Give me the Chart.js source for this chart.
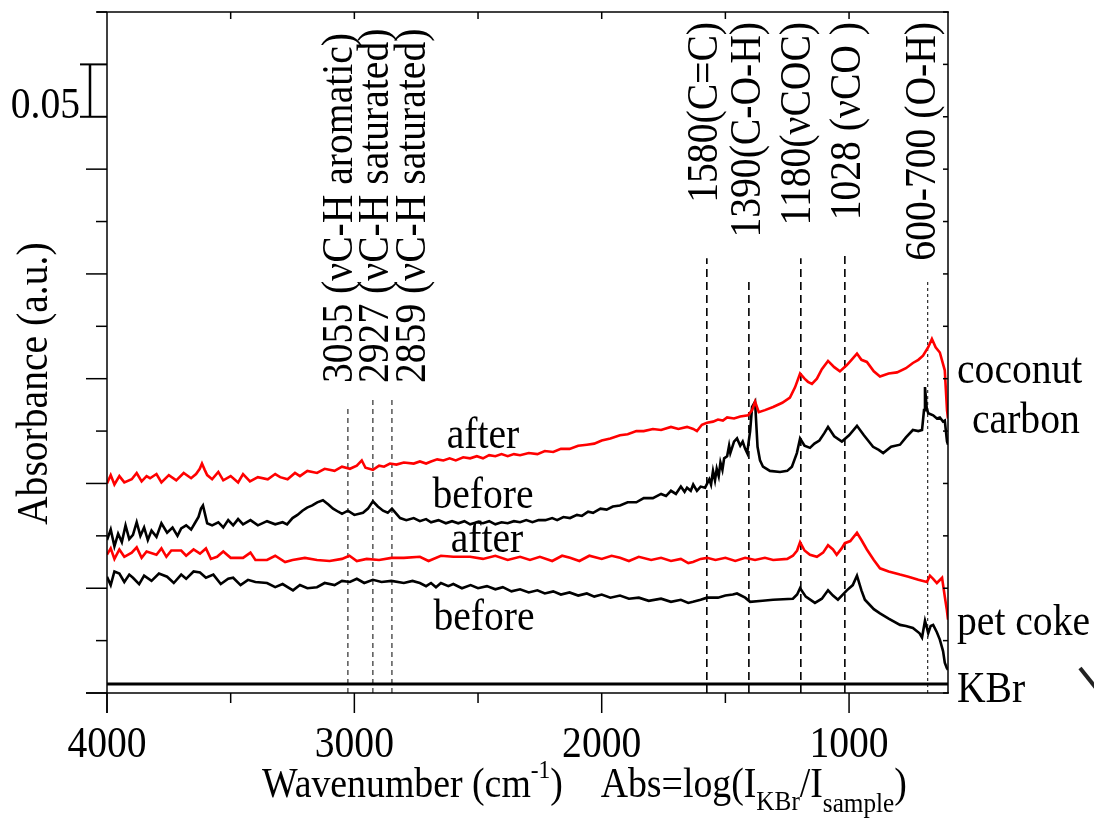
<!DOCTYPE html>
<html>
<head>
<meta charset="utf-8">
<script src="https://cdn.jsdelivr.net/npm/chart.js@4/dist/chart.umd.min.js"></script>
<style>
  html, body { margin: 0; padding: 0; background: #fff; }
  canvas { display: block; }
</style>
</head>
<body>
<canvas id="ftir" width="1094" height="821"></canvas>
<script>
// ---- data: [wavenumber cm-1, absorbance a.u.] ----
const cocoAfter = [
  [4000,0.200],[3985,0.208],[3970,0.199],[3950,0.207],[3930,0.201],[3900,0.204],[3880,0.210],[3860,0.202],
  [3840,0.207],[3826,0.205],[3800,0.209],[3780,0.201],[3750,0.208],[3720,0.203],[3690,0.210],[3660,0.205],
  [3640,0.209],[3625,0.214],[3616,0.219],[3605,0.213],[3595,0.208],[3575,0.204],[3550,0.211],[3530,0.203],
  [3500,0.207],[3470,0.201],[3450,0.209],[3422,0.202],[3390,0.206],[3350,0.204],[3320,0.209],[3300,0.206],
  [3270,0.204],[3240,0.210],[3220,0.207],[3190,0.212],[3151,0.210],[3120,0.214],[3080,0.212],[3050,0.216],
  [3018,0.214],[2990,0.217],[2970,0.222],[2955,0.215],[2925,0.213],[2900,0.217],[2880,0.216],[2856,0.219],
  [2830,0.218],[2800,0.220],[2760,0.219],[2735,0.221],[2710,0.219],[2690,0.221],[2665,0.223],[2640,0.222],
  [2615,0.224],[2590,0.222],[2560,0.225],[2532,0.224],[2505,0.226],[2480,0.224],[2455,0.227],[2430,0.226],
  [2405,0.228],[2380,0.226],[2355,0.228],[2330,0.227],[2295,0.229],[2260,0.228],[2230,0.231],[2196,0.230],
  [2165,0.233],[2130,0.233],[2095,0.236],[2060,0.237],[2030,0.238],[2000,0.241],[1965,0.243],[1926,0.246],
  [1895,0.247],[1860,0.250],[1830,0.250],[1793,0.252],[1760,0.251],[1720,0.254],[1690,0.252],[1655,0.254],
  [1630,0.252],[1615,0.250],[1595,0.256],[1574,0.258],[1550,0.259],[1530,0.261],[1510,0.260],[1493,0.263],
  [1465,0.262],[1440,0.264],[1408,0.265],[1392,0.270],[1380,0.278],[1365,0.268],[1340,0.270],[1307,0.273],
  [1270,0.277],[1239,0.282],[1218,0.292],[1198,0.305],[1180,0.300],[1166,0.297],[1150,0.295],[1130,0.300],
  [1110,0.309],[1085,0.317],[1060,0.311],[1037,0.307],[1009,0.313],[990,0.318],[968,0.324],[950,0.318],
  [928,0.316],[900,0.307],[875,0.302],[840,0.305],[806,0.306],[770,0.310],[742,0.315],[720,0.318],
  [701,0.322],[680,0.330],[665,0.338],[650,0.330],[633,0.325],[613,0.308],[604,0.270],[600,0.262]
];

const cocoBefore = [
  [4000,0.146],[3985,0.156],[3970,0.140],[3955,0.152],[3940,0.144],[3925,0.160],[3910,0.147],[3895,0.151],
  [3880,0.163],[3865,0.150],[3850,0.158],[3835,0.146],[3820,0.155],[3800,0.149],[3780,0.162],[3757,0.153],
  [3735,0.158],[3715,0.150],[3700,0.157],[3680,0.160],[3660,0.156],[3645,0.162],[3630,0.168],[3620,0.176],
  [3612,0.179],[3603,0.170],[3595,0.162],[3575,0.160],[3550,0.163],[3530,0.158],[3510,0.165],[3490,0.160],
  [3470,0.166],[3450,0.161],[3420,0.165],[3390,0.160],[3353,0.164],[3320,0.161],[3290,0.163],[3272,0.161],
  [3250,0.167],[3230,0.170],[3210,0.174],[3191,0.177],[3170,0.179],[3150,0.182],[3127,0.184],[3105,0.180],
  [3086,0.176],[3065,0.173],[3050,0.171],[3026,0.174],[3000,0.170],[2965,0.172],[2945,0.176],[2925,0.183],
  [2905,0.178],[2884,0.174],[2865,0.172],[2848,0.176],[2830,0.171],[2815,0.167],[2790,0.165],[2760,0.167],
  [2735,0.164],[2710,0.166],[2690,0.163],[2660,0.165],[2630,0.162],[2605,0.164],[2580,0.162],[2555,0.164],
  [2532,0.161],[2505,0.163],[2480,0.162],[2455,0.164],[2430,0.161],[2405,0.163],[2380,0.162],[2355,0.164],
  [2330,0.163],[2305,0.165],[2280,0.163],[2255,0.165],[2228,0.165],[2200,0.167],[2180,0.165],[2155,0.168],
  [2128,0.167],[2100,0.170],[2080,0.169],[2055,0.173],[2035,0.172],[2005,0.176],[1980,0.175],[1955,0.178],
  [1926,0.179],[1895,0.182],[1860,0.182],[1830,0.186],[1793,0.186],[1760,0.190],[1740,0.188],[1720,0.193],
  [1700,0.190],[1680,0.197],[1665,0.192],[1655,0.196],[1640,0.193],[1630,0.199],[1615,0.193],[1600,0.197],
  [1582,0.196],[1565,0.204],[1558,0.199],[1550,0.212],[1542,0.203],[1535,0.214],[1527,0.207],[1520,0.220],
  [1512,0.213],[1505,0.224],[1493,0.226],[1485,0.236],[1480,0.229],[1465,0.240],[1453,0.243],[1440,0.236],
  [1430,0.240],[1420,0.233],[1412,0.229],[1400,0.250],[1392,0.273],[1380,0.278],[1370,0.235],[1360,0.222],
  [1348,0.216],[1320,0.212],[1279,0.211],[1250,0.212],[1231,0.216],[1211,0.229],[1198,0.243],[1180,0.236],
  [1158,0.234],[1140,0.238],[1120,0.241],[1100,0.248],[1085,0.254],[1060,0.245],[1029,0.240],[1000,0.246],
  [968,0.255],[940,0.246],[903,0.235],[880,0.232],[862,0.229],[830,0.235],[794,0.237],[770,0.244],
  [742,0.251],[720,0.250],[705,0.251],[697,0.270],[693,0.292],[686,0.272],[680,0.267],[660,0.265],
  [645,0.262],[633,0.263],[620,0.259],[613,0.260],[604,0.240],[600,0.237]
];

const petAfter = [
  [4000,0.132],[3985,0.138],[3970,0.128],[3950,0.137],[3930,0.130],[3900,0.134],[3880,0.139],[3860,0.129],
  [3840,0.135],[3800,0.132],[3780,0.138],[3760,0.130],[3740,0.136],[3700,0.136],[3680,0.131],[3650,0.137],
  [3624,0.133],[3600,0.138],[3580,0.128],[3555,0.130],[3530,0.135],[3500,0.129],[3450,0.129],[3420,0.134],
  [3400,0.127],[3353,0.127],[3320,0.131],[3280,0.125],[3250,0.127],[3200,0.129],[3151,0.127],[3100,0.126],
  [3050,0.128],[3020,0.131],[2990,0.126],[2950,0.128],[2900,0.127],[2850,0.129],[2800,0.129],[2735,0.130],
  [2700,0.126],[2650,0.131],[2600,0.130],[2532,0.130],[2480,0.128],[2430,0.131],[2380,0.127],[2330,0.130],
  [2290,0.127],[2250,0.130],[2200,0.126],[2160,0.131],[2128,0.129],[2090,0.126],[2050,0.131],[2000,0.128],
  [1960,0.131],[1926,0.129],[1890,0.126],[1850,0.130],[1800,0.127],[1760,0.129],[1720,0.126],[1680,0.128],
  [1650,0.124],[1631,0.125],[1600,0.128],[1574,0.129],[1540,0.127],[1500,0.129],[1460,0.126],[1420,0.129],
  [1380,0.127],[1340,0.129],[1307,0.127],[1250,0.128],[1227,0.131],[1210,0.136],[1198,0.144],[1180,0.136],
  [1158,0.132],[1130,0.130],[1105,0.134],[1085,0.141],[1065,0.137],[1050,0.132],[1030,0.138],[1017,0.143],
  [995,0.145],[968,0.153],[950,0.146],[928,0.137],[900,0.127],[875,0.119],[840,0.116],[794,0.113],
  [760,0.111],[720,0.108],[685,0.106],[673,0.112],[660,0.109],[645,0.105],[624,0.110],[613,0.092],
  [605,0.080],[600,0.070]
];

const petBefore = [
  [4000,0.111],[3985,0.103],[3970,0.116],[3950,0.114],[3930,0.106],[3910,0.113],[3895,0.110],[3870,0.104],
  [3850,0.112],[3820,0.107],[3790,0.114],[3757,0.111],[3730,0.105],[3700,0.113],[3680,0.109],[3650,0.116],
  [3624,0.115],[3600,0.110],[3570,0.113],[3540,0.104],[3510,0.109],[3490,0.110],[3460,0.103],[3430,0.108],
  [3400,0.106],[3353,0.105],[3320,0.101],[3290,0.104],[3248,0.098],[3220,0.103],[3190,0.100],[3151,0.101],
  [3120,0.105],[3080,0.103],[3050,0.107],[3018,0.106],[2990,0.109],[2960,0.105],[2925,0.108],[2890,0.106],
  [2850,0.107],[2800,0.105],[2765,0.107],[2735,0.105],[2710,0.102],[2690,0.105],[2670,0.101],[2650,0.105],
  [2620,0.102],[2600,0.104],[2565,0.100],[2530,0.103],[2500,0.100],[2464,0.102],[2430,0.099],[2400,0.101],
  [2365,0.097],[2330,0.099],[2295,0.096],[2260,0.098],[2230,0.095],[2196,0.097],[2165,0.094],[2130,0.096],
  [2095,0.093],[2060,0.095],[2030,0.092],[2000,0.094],[1965,0.091],[1926,0.093],[1890,0.090],[1850,0.091],
  [1810,0.088],[1760,0.090],[1720,0.087],[1680,0.089],[1650,0.086],[1631,0.087],[1600,0.089],[1574,0.091],
  [1530,0.091],[1500,0.093],[1470,0.094],[1453,0.095],[1420,0.091],[1400,0.087],[1350,0.088],[1307,0.089],
  [1227,0.090],[1210,0.094],[1198,0.100],[1175,0.092],[1138,0.086],[1110,0.090],[1085,0.098],[1065,0.093],
  [1045,0.089],[1009,0.098],[985,0.103],[968,0.112],[950,0.098],[936,0.089],[900,0.080],[875,0.076],
  [840,0.071],[794,0.065],[770,0.064],[742,0.062],[715,0.057],[705,0.053],[693,0.069],[685,0.062],
  [680,0.057],[670,0.064],[660,0.065],[645,0.058],[633,0.051],[620,0.040],[613,0.029],[605,0.024],
  [600,0.022]
];

const kbr = [[4000, 0.0086], [600, 0.0086]];

// band markers: where the dashed line sits and how high it reaches
const markerWn  = [3026, 2925, 2848, 1575, 1405, 1195, 1017, 682];
const markerTop = [0.273, 0.281, 0.281, 0.415, 0.393, 0.415, 0.418, 0.393];
const markerKind = ['thin', 'thin', 'thin', 'mid', 'mid', 'mid', 'mid', 'fine'];

// band labels (rotated), anchored at the baseline wavenumber
const bandText = ['3055 (\u03bdC-H aromatic)', '2927 (\u03bdC-H saturated)', '2859 (\u03bdC-H saturated)',
  '1580(C=C)', '1390(C-O-H)', '1180(\u03bdCOC)', '1028 (\u03bdCO )', '600-700 (O-H)'];
const bandWn = [3010, 2864, 2714, 1534, 1360, 1158, 956, 653];

// curve labels inside the plot (centre wavenumber, baseline absorbance)
const curveText = ['after', 'before', 'after', 'before'];
const curveWn  = [2480, 2480, 2464, 2476];
const curveAbs = [0.2338, 0.1765, 0.1346, 0.0601];

const xMajor = [4000, 3000, 2000, 1000];
const xMinor = [3500, 2500, 1500];

const pts = rows => rows.map(([x, y]) => ({ x, y }));

const SERIF = '"Liberation Serif", "Times New Roman", serif';

function txt(ctx, s, x, y, size, align, rot, sx) {
  ctx.save();
  ctx.translate(x, y);
  if (rot) ctx.rotate(rot);
  ctx.scale(sx || 0.9, 1);
  ctx.font = size + 'px ' + SERIF;
  ctx.textAlign = align || 'left';
  ctx.textBaseline = 'alphabetic';
  ctx.fillStyle = '#000';
  ctx.fillText(s, 0, 0);
  ctx.restore();
}

function textWidth(ctx, s, size, sx) {
  ctx.font = size + 'px ' + SERIF;
  return ctx.measureText(s).width * (sx || 0.9);
}

function line(ctx, x1, y1, x2, y2) {
  ctx.beginPath();
  ctx.moveTo(x1, y1);
  ctx.lineTo(x2, y2);
  ctx.stroke();
}

// frame, ticks and all the text of the figure
const frame = {
  id: 'frame',
  afterDraw(chart) {
    const { ctx, chartArea: a, scales: { x, y } } = chart;
    ctx.save();
    ctx.strokeStyle = '#000';
    ctx.lineWidth = 1.5;
    line(ctx, a.left - 10, a.top, a.right + 1, a.top);
    line(ctx, a.left, a.top, a.left, a.bottom + 20);
    line(ctx, a.right, a.top, a.right, a.bottom);
    line(ctx, a.left - 21, a.bottom, a.right + 1, a.bottom);

    // y ticks every 0.05, long on the tenths
    for (let i = 0; i <= 13; i++) {
      const py = y.getPixelForValue(i * 0.05);
      if (i !== 11 && i !== 12) line(ctx, a.left - (i % 2 === 0 ? 21 : 11), py, a.left, py);
      line(ctx, a.right - 5, py, a.right, py);
    }
    // 0.05 scale bar
    const b1 = y.getPixelForValue(0.55), b2 = y.getPixelForValue(0.6);
    ctx.lineWidth = 2;
    line(ctx, a.left - 27, b1, a.left, b1);
    line(ctx, a.left - 27, b2, a.left, b2);
    ctx.lineWidth = 2.5;
    line(ctx, a.left - 17, b1, a.left - 17, b2);
    ctx.lineWidth = 1.5;
    txt(ctx, '0.05', a.left - 27, b1 + 1, 44, 'right');

    // x ticks
    xMajor.forEach(v => line(ctx, x.getPixelForValue(v), a.bottom, x.getPixelForValue(v), a.bottom + 20));
    xMinor.forEach(v => line(ctx, x.getPixelForValue(v), a.bottom, x.getPixelForValue(v), a.bottom + 10));
    xMajor.concat(xMinor).forEach(v => {
      if (v < 4000) line(ctx, x.getPixelForValue(v), a.top, x.getPixelForValue(v), a.top + 7);
    });
    xMajor.forEach(v => txt(ctx, String(v), x.getPixelForValue(v), a.bottom + 64, 44, 'center'));

    // axis titles
    txt(ctx, 'Absorbance (a.u.)', 47, 525, 44, 'left', -Math.PI / 2);
    const parts = [
      ['Wavenumber (cm', 42, 0], ['-1', 26, -19], [')', 42, 0], ['    ', 42, 0],
      ['Abs=log(I', 42, 0], ['KBr', 28, 13], ['/I', 42, 0], ['sample', 28, 15], [')', 42, 0]
    ];
    let cx = 262;
    const base = a.bottom + 104;
    parts.forEach(([s, sz, dy]) => {
      txt(ctx, s, cx, base + dy, sz, 'left');
      cx += textWidth(ctx, s, sz);
    });

    // band labels
    bandText.forEach((s, i) => {
      const px = x.getPixelForValue(bandWn[i]);
      if (i < 3) txt(ctx, s, px, 383, 44, 'left', -Math.PI / 2);
      else txt(ctx, s, px, 22, 44, 'right', -Math.PI / 2);
    });

    // curve labels
    curveText.forEach((s, i) => {
      txt(ctx, s, x.getPixelForValue(curveWn[i]), y.getPixelForValue(curveAbs[i]), 44, 'center');
    });
    txt(ctx, 'coconut', a.right + 9, 383, 44);
    txt(ctx, 'carbon', a.right + 24, 433, 44);
    txt(ctx, 'pet coke', a.right + 9, 635, 44);
    txt(ctx, 'KBr', a.right + 9, 702, 44);

    // stray mark at the right edge of the scan
    ctx.strokeStyle = '#222';
    ctx.lineWidth = 4;
    line(ctx, 1080, 668, 1096, 688);
    ctx.restore();
  }
};

const markerStyle = {
  thin: { borderWidth: 1, borderDash: [5, 4] },
  mid:  { borderWidth: 1.6, borderDash: [8, 5] },
  fine: { borderWidth: 1, borderDash: [3, 3] }
};

const spectrum = (label, rows, color) => ({
  label, data: pts(rows), borderColor: color, borderWidth: 2.6,
  pointRadius: 0, tension: 0, fill: false
});

const datasets = [
  spectrum('coconut after', cocoAfter, '#ff0000'),
  spectrum('coconut before', cocoBefore, '#000000'),
  spectrum('pet coke after', petAfter, '#ff0000'),
  spectrum('pet coke before', petBefore, '#000000'),
  { label: 'KBr', data: pts(kbr), borderColor: '#000', borderWidth: 3, pointRadius: 0 }
];
markerWn.forEach((w, i) => {
  datasets.push({
    label: 'band ' + w,
    data: [{ x: w, y: 0 }, { x: w, y: markerTop[i] }],
    borderColor: '#000', pointRadius: 0,
    ...markerStyle[markerKind[i]]
  });
});

new Chart(document.getElementById('ftir'), {
  type: 'line',
  data: { datasets },
  options: {
    responsive: false,
    animation: false,
    layout: { padding: { top: 12, right: 146, left: 0, bottom: 0 } },
    plugins: { legend: { display: false }, tooltip: { enabled: false } },
    scales: {
      x: {
        type: 'linear', reverse: true, min: 600, max: 4000,
        grid: { display: false }, border: { display: false },
        ticks: { display: false },
        afterFit: s => { s.height = 128; }
      },
      y: {
        min: 0, max: 0.65,
        grid: { display: false }, border: { display: false },
        ticks: { display: false },
        afterFit: s => { s.width = 107; }
      }
    }
  },
  plugins: [frame]
});
</script>
</body>
</html>
